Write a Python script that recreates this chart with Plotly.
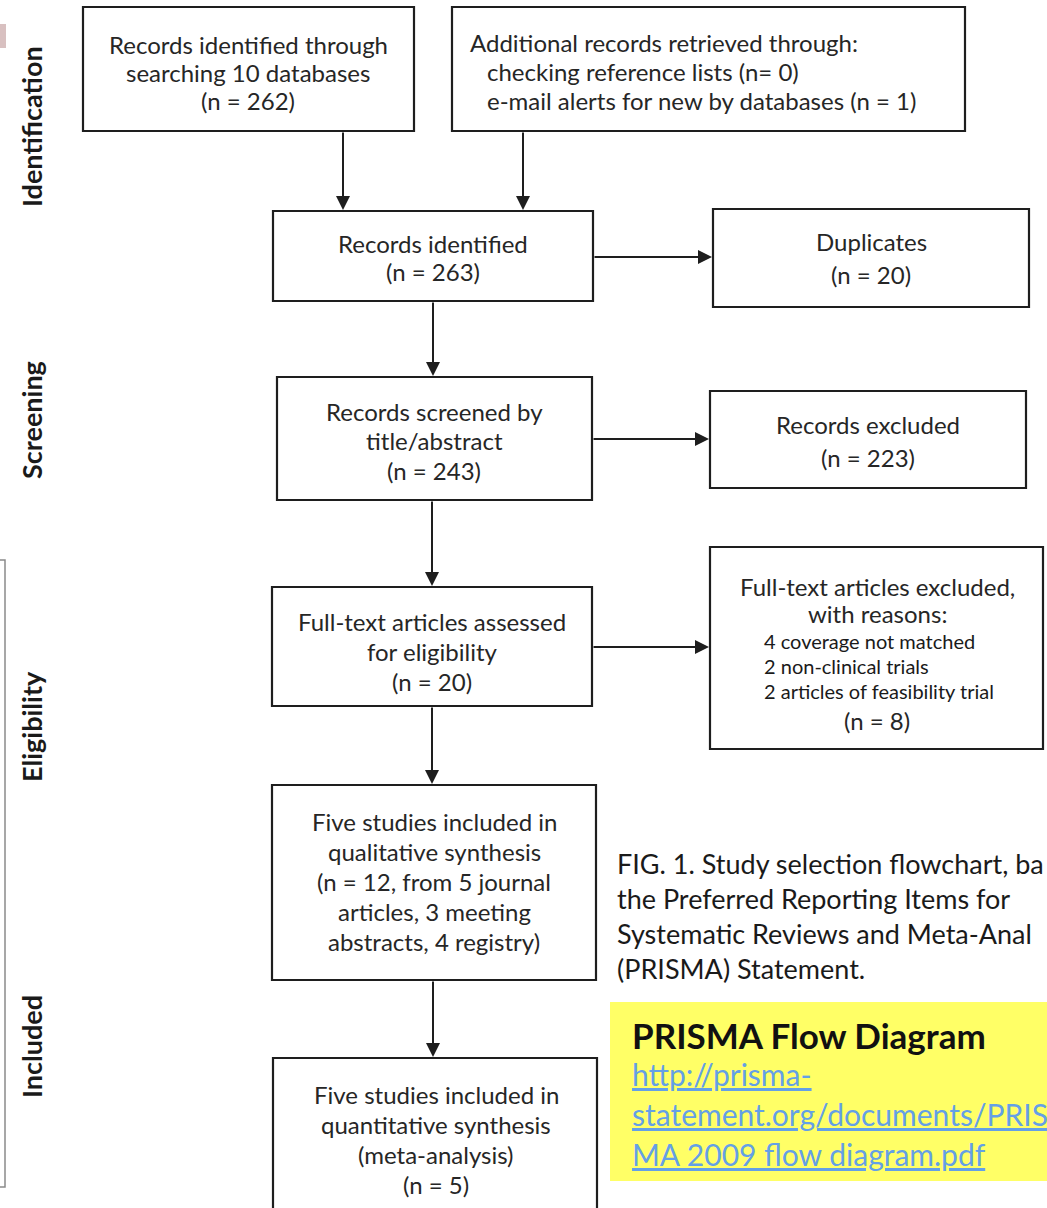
import plotly.graph_objects as go

W, H = 1047, 1208

# ---------------- data (texts / counts) ----------------
stage_labels = ["Identification", "Screening", "Eligibility", "Included"]

db_lines = ["Records identified through", "searching 10 databases", "(n = 262)"]
extra_lines = ["Additional records retrieved through:",
               "checking reference lists (n= 0)",
               "e-mail alerts for new by databases (n = 1)"]
ident_lines = ["Records identified", "(n = 263)"]
dup_lines = ["Duplicates", "(n = 20)"]
screen_lines = ["Records screened by", "title/abstract", "(n = 243)"]
excl_lines = ["Records excluded", "(n = 223)"]
full_lines = ["Full-text articles assessed", "for eligibility", "(n = 20)"]
fullex_head = ["Full-text articles excluded,", "with reasons:"]
fullex_reasons = ["4 coverage not matched", "2 non-clinical trials", "2 articles of feasibility trial"]
fullex_n = ["(n = 8)"]
qual_lines = ["Five studies included in", "qualitative synthesis", "(n = 12, from 5 journal",
              "articles, 3 meeting", "abstracts, 4 registry)"]
quant_lines = ["Five studies included in", "quantitative synthesis", "(meta-analysis)", "(n = 5)"]

caption_lines = ["FIG. 1. Study selection flowchart, ba",
                 "the Preferred Reporting Items for",
                 "Systematic Reviews and Meta-Anal",
                 "(PRISMA) Statement."]
note_title = "PRISMA Flow Diagram"
note_link_lines = ["http://prisma-", "statement.org/documents/PRIS", "MA 2009 flow diagram.pdf"]

# ---------------- layout geometry ----------------
BOX_FONT = "Lato"
BOX_SIZE = 24
LINE_COL = "#1e1e1e"
TXT_COL = "#262626"

boxes = {
    "db": (83, 7, 414, 131),
    "extra": (452, 7, 965, 131),
    "ident": (273, 211, 593, 301),
    "dup": (713, 209, 1029, 307),
    "screen": (277, 377, 592, 500),
    "excl": (710, 391, 1026, 488),
    "full": (272, 587, 592, 706),
    "fullex": (710, 547, 1043, 749),
    "qual": (272, 785, 596, 980),
    "quant": (273, 1058, 597, 1240),
}

arrows = [
    ((343, 131), (343, 210)),
    ((523, 131), (523, 210)),
    ((593, 257), (712, 257)),
    ((433, 301), (433, 376)),
    ((592, 439), (709, 439)),
    ((432, 500), (432, 586)),
    ((592, 647), (709, 647)),
    ((432, 706), (432, 784)),
    ((433, 980), (433, 1057)),
]

fig = go.Figure()
fig.add_trace(go.Scatter(x=[0, W], y=[0, H], mode="markers",
                         marker=dict(opacity=0), hoverinfo="skip", showlegend=False))

shapes = []
annotations = []

# decorative elements at left edge
shapes.append(dict(type="rect", xref="x", yref="y", x0=-2, x1=6, y0=24, y1=48,
                   fillcolor="#d8c0c0", line=dict(width=0), layer="below"))
shapes.append(dict(type="rect", xref="x", yref="y", x0=-20, x1=5, y0=560, y1=1187,
                   fillcolor="rgba(0,0,0,0)", line=dict(color="#8a8a8a", width=1.5)))

# yellow note box
shapes.append(dict(type="rect", xref="x", yref="y", x0=610, x1=1060, y0=1002, y1=1181,
                   fillcolor="#ffff66", line=dict(width=0), layer="below"))

# flowchart boxes
for k, (x0, y0, x1, y1) in boxes.items():
    shapes.append(dict(type="rect", xref="x", yref="y", x0=x0, x1=x1, y0=y0, y1=y1,
                       fillcolor="white", line=dict(color=LINE_COL, width=2.2), layer="below"))


def put_lines(lines, ys, x, anchor="center", size=BOX_SIZE, color=TXT_COL, family=BOX_FONT):
    for t, y in zip(lines, ys):
        annotations.append(dict(x=x, y=y, xref="x", yref="y", text=t, showarrow=False,
                                xanchor=anchor, yanchor="middle",
                                font=dict(family=family, size=size, color=color)))


put_lines(db_lines, [44, 72, 100], 248)
put_lines(extra_lines[:1], [42], 468, anchor="left")
put_lines(extra_lines[1:], [71, 100], 485, anchor="left")
put_lines(ident_lines, [243, 271], 433)
put_lines(dup_lines, [241, 274], 871)
put_lines(screen_lines, [411, 440, 470], 434)
put_lines(excl_lines, [424, 457], 868)
put_lines(full_lines, [621, 651, 681], 432)
put_lines(fullex_head, [586, 613], 877)
put_lines(fullex_reasons, [641, 666, 691], 762, anchor="left", size=20, color="#1a1a1a")
put_lines(fullex_n, [720], 877)
put_lines(qual_lines, [821, 851, 881, 911, 941], 434)
put_lines(quant_lines, [1094, 1124, 1154, 1184], 436)

# stage labels (rotated)
for lab, y in zip(stage_labels, [127, 420, 727, 1047]):
    annotations.append(dict(x=31, y=y, xref="x", yref="y", text="<b>" + lab + "</b>",
                            showarrow=False, textangle=-90, xanchor="center", yanchor="middle",
                            font=dict(family=BOX_FONT, size=27, color="#1a1a1a")))

# arrows
for (tx, ty), (hx, hy) in arrows:
    annotations.append(dict(x=hx, y=hy, ax=tx, ay=ty, xref="x", yref="y", axref="x", ayref="y",
                            text="", showarrow=True, arrowhead=2, arrowsize=1.4,
                            arrowwidth=2, arrowcolor=LINE_COL, standoff=0, startstandoff=0))

# caption
put_lines(caption_lines, [863, 898, 933, 968], 615, anchor="left", size=27,
          color="#1a1a1a", family="Lato")

# note
put_lines(["<b>" + note_title + "</b>"], [1035], 630, anchor="left", size=35,
          color="#111111", family="Lato")
put_lines(["<span style='text-decoration:underline'>" + t + "</span>" for t in note_link_lines],
          [1074, 1114, 1154], 630, anchor="left", size=30, color="#64a0e6", family="Lato")

fig.update_layout(
    width=W, height=H,
    margin=dict(l=0, r=0, t=0, b=0),
    paper_bgcolor="white", plot_bgcolor="white",
    xaxis=dict(range=[0, W], visible=False, fixedrange=True),
    yaxis=dict(range=[H, 0], visible=False, fixedrange=True),
    shapes=shapes, annotations=annotations, showlegend=False,
)

fig.write_html("out.html",
               config={"displayModeBar": False},
               post_script="document.body.style.margin='0';"
                           "document.documentElement.style.overflow='hidden';")
